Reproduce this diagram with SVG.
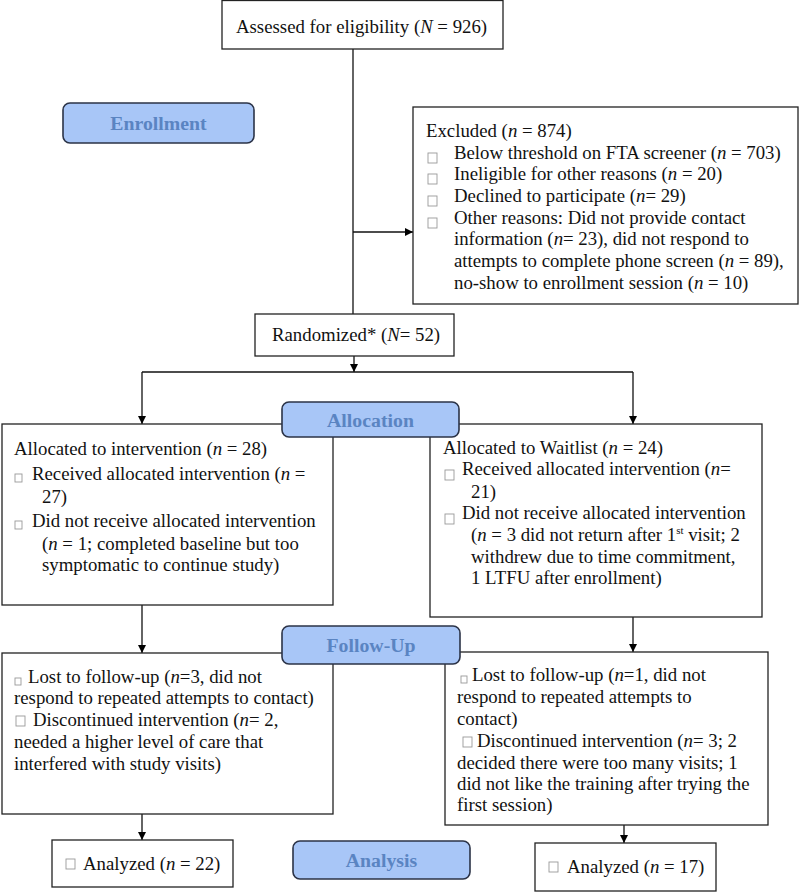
<svg xmlns="http://www.w3.org/2000/svg" width="800" height="893" viewBox="0 0 800 893">
<defs>
<marker id="ah" viewBox="0 0 10 10" refX="10" refY="5" markerWidth="8" markerHeight="8" markerUnits="userSpaceOnUse" orient="auto">
<path d="M0,0 L10,5 L0,10 z" fill="#000"/>
</marker>
<style>
.box{fill:#fff;stroke:#222;stroke-width:1.3}
.phase{fill:#a8c6f7;stroke:#2b3347;stroke-width:1.6}
.pt{font-family:"Liberation Serif","Times New Roman",serif;font-weight:bold;font-size:19.8px;fill:#5a84c2;text-anchor:middle}
.t{font-family:"Liberation Serif","Times New Roman",serif;font-size:18.8px;fill:#111}
.cb{fill:#fff;stroke:#999;stroke-width:0.9}
.ln{stroke:#111;stroke-width:1.3;fill:none}
.ar{stroke:#111;stroke-width:1.3;fill:none;marker-end:url(#ah)}
</style>
</defs>
<rect width="800" height="893" fill="#fff"/>

<g id="connectors">
<line class="ln" x1="353" y1="49" x2="353" y2="314"/>
<line class="ar" x1="353" y1="232" x2="413" y2="232"/>
<line class="ar" x1="354" y1="356" x2="354" y2="372"/>
<line class="ln" x1="142" y1="372" x2="633" y2="372"/>
<line class="ar" x1="142" y1="372" x2="142" y2="424"/>
<line class="ar" x1="633" y1="372" x2="633" y2="424"/>
<line class="ar" x1="142" y1="605" x2="142" y2="653"/>
<line class="ar" x1="633" y1="617" x2="633" y2="652"/>
<line class="ar" x1="142" y1="814" x2="142" y2="840"/>
<line class="ar" x1="624" y1="825" x2="624" y2="843"/>
</g>

<g id="assessed">
<rect class="box" x="222" y="0.5" width="281" height="48.5"/>
<text class="t" x="236" y="33">Assessed for eligibility (<tspan font-style="italic">N</tspan> = 926)</text>
</g>

<g id="excluded">
<rect class="box" x="413" y="107" width="385" height="197"/>
<text class="t" x="426" y="137">Excluded  (<tspan font-style="italic">n</tspan> = 874)</text>
<rect class="cb" x="428" y="153" width="9" height="10"/>
<text class="t" x="454" y="159">Below threshold on FTA screener (<tspan font-style="italic">n</tspan> = 703)</text>
<rect class="cb" x="428" y="174" width="9" height="10"/>
<text class="t" x="454" y="180">Ineligible for other reasons (<tspan font-style="italic">n</tspan> = 20)</text>
<rect class="cb" x="428" y="196" width="9" height="10"/>
<text class="t" x="454" y="202">Declined to participate (<tspan font-style="italic">n</tspan>= 29)</text>
<rect class="cb" x="428" y="218" width="9" height="10"/>
<text class="t" x="454" y="224">Other reasons: Did not provide contact</text>
<text class="t" x="454" y="245">information (<tspan font-style="italic">n</tspan>= 23), did not respond to</text>
<text class="t" x="454" y="267">attempts to complete phone screen (<tspan font-style="italic">n</tspan> = 89),</text>
<text class="t" x="454" y="289">no-show to enrollment session (<tspan font-style="italic">n</tspan> = 10)</text>
</g>

<g id="randomized">
<rect class="box" x="255" y="314" width="199" height="42"/>
<text class="t" x="272" y="341">Randomized*  (<tspan font-style="italic">N</tspan>= 52)</text>
</g>

<g id="alloc-left">
<rect class="box" x="2" y="424" width="331" height="181"/>
<text class="t" x="14" y="455">Allocated to intervention (<tspan font-style="italic">n</tspan> = 28)</text>
<rect class="cb" x="15" y="474" width="7" height="8"/>
<text class="t" x="32" y="480">Received allocated intervention (<tspan font-style="italic">n</tspan> =</text>
<text class="t" x="42" y="503">27)</text>
<rect class="cb" x="15" y="521" width="7" height="8"/>
<text class="t" x="32" y="527">Did not receive allocated intervention</text>
<text class="t" x="42" y="550">(<tspan font-style="italic">n</tspan> = 1; completed baseline but too</text>
<text class="t" x="42" y="571">symptomatic to continue study)</text>
</g>

<g id="alloc-right">
<rect class="box" x="430" y="424" width="332" height="193"/>
<text class="t" x="443" y="454">Allocated to Waitlist (<tspan font-style="italic">n</tspan> = 24)</text>
<rect class="cb" x="445" y="470" width="9" height="10"/>
<text class="t" x="462" y="475">Received allocated intervention (<tspan font-style="italic">n</tspan>=</text>
<text class="t" x="471" y="498">21)</text>
<rect class="cb" x="445" y="514" width="9" height="10"/>
<text class="t" x="462" y="519">Did not receive allocated intervention</text>
<text class="t" x="471" y="541">(<tspan font-style="italic">n</tspan> = 3 did not return after 1<tspan font-size="11" dy="-7">st</tspan><tspan dy="7"> visit; 2</tspan></text>
<text class="t" x="471" y="563">withdrew due to time commitment,</text>
<text class="t" x="471" y="584">1 LTFU after enrollment)</text>
</g>

<g id="followup-left">
<rect class="box" x="2" y="653" width="331" height="161"/>
<rect class="cb" x="15" y="678" width="6" height="7"/>
<text class="t" x="28" y="683">Lost to follow-up (<tspan font-style="italic">n</tspan>=3, did not</text>
<text class="t" x="14" y="704">respond to repeated attempts to contact)</text>
<rect class="cb" x="16" y="716" width="9" height="10"/>
<text class="t" x="33" y="726">Discontinued intervention (<tspan font-style="italic">n</tspan>= 2,</text>
<text class="t" x="14" y="748">needed a higher level of care that</text>
<text class="t" x="14" y="770">interfered with study visits)</text>
</g>

<g id="followup-right">
<rect class="box" x="445" y="652" width="323" height="173"/>
<rect class="cb" x="461" y="676" width="6" height="7"/>
<text class="t" x="472" y="681">Lost to follow-up (<tspan font-style="italic">n</tspan>=1, did not</text>
<text class="t" x="457" y="703">respond to repeated attempts to</text>
<text class="t" x="457" y="725">contact)</text>
<rect class="cb" x="463" y="737" width="9" height="10"/>
<text class="t" x="477" y="747">Discontinued intervention (<tspan font-style="italic">n</tspan>= 3; 2</text>
<text class="t" x="457" y="769">decided there were too many visits; 1</text>
<text class="t" x="457" y="790">did not like the training after trying the</text>
<text class="t" x="457" y="811">first session)</text>
</g>

<g id="analyzed-left">
<rect class="box" x="52" y="840" width="181" height="47"/>
<rect class="cb" x="66" y="859" width="9" height="10"/>
<text class="t" x="83" y="870">Analyzed (<tspan font-style="italic">n</tspan> = 22)</text>
</g>

<g id="analyzed-right">
<rect class="box" x="535" y="843" width="181" height="48"/>
<rect class="cb" x="549" y="862" width="9" height="10"/>
<text class="t" x="567" y="873">Analyzed (<tspan font-style="italic">n</tspan> = 17)</text>
</g>

<g id="phase-enrollment">
<rect class="phase" x="63" y="103" width="191" height="40" rx="7"/>
<text class="pt" x="158.5" y="130">Enrollment</text>
</g>
<g id="phase-allocation">
<rect class="phase" x="282" y="402" width="177" height="35" rx="7"/>
<text class="pt" x="370.5" y="427">Allocation</text>
</g>
<g id="phase-followup">
<rect class="phase" x="282" y="626" width="178" height="38" rx="7"/>
<text class="pt" x="371" y="652">Follow-Up</text>
</g>
<g id="phase-analysis">
<rect class="phase" x="293" y="841" width="177" height="38" rx="7"/>
<text class="pt" x="381.5" y="867">Analysis</text>
</g>
</svg>
